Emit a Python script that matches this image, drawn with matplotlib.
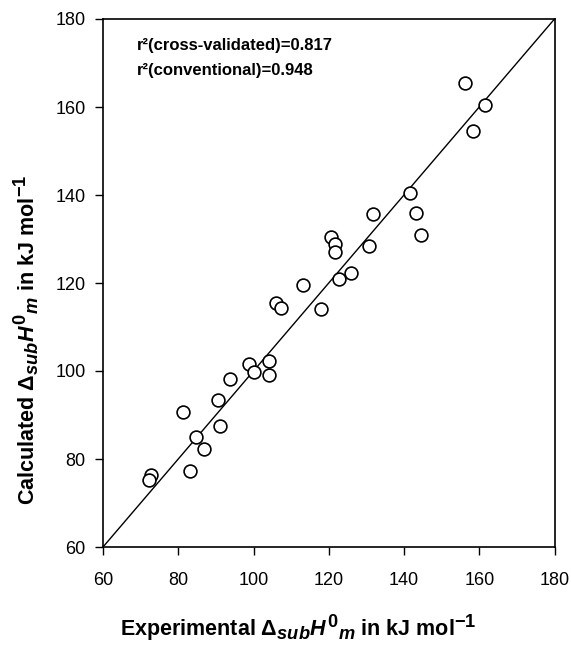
import matplotlib
matplotlib.use("Agg")
import matplotlib.pyplot as plt
from matplotlib import font_manager
try:
    import matplotlib._mathtext as _mt
    _mt.SHRINK_FACTOR = 0.85
except Exception:
    pass

experimental = [72.7, 72.1, 81.3, 83.0, 84.8, 86.9, 90.5, 91.2, 93.8, 98.9,
                100.0, 104.1, 104.2, 106.0, 107.4, 113.2, 117.9, 120.7, 121.6, 121.6,
                122.8, 125.9, 130.6, 131.8, 141.6, 143.1, 144.4, 156.1, 158.3, 161.4]
calculated = [76.4, 75.2, 90.6, 77.3, 85.0, 82.2, 93.3, 87.6, 98.2, 101.6,
              99.7, 99.2, 102.3, 115.4, 114.3, 119.5, 114.0, 130.4, 128.8, 127.1,
              121.0, 122.2, 128.4, 135.7, 140.4, 135.9, 130.8, 165.4, 154.6, 160.5]
ticks = [60, 80, 100, 120, 140, 160, 180]
annotations = ["r\u00b2(cross-validated)=0.817", "r\u00b2(conventional)=0.948"]
xlabel = r'Experimental $\Delta_{sub}H^{\mathit{0}}{}_{m}$ in kJ mol$^{-1}$'
ylabel = r'Calculated $\Delta_{sub}H^{\mathit{0}}{}_{m}$ in kJ mol$^{-1}$'

names = {f.name for f in font_manager.fontManager.ttflist}
narrow = "Liberation Sans Narrow" if "Liberation Sans Narrow" in names else "Liberation Sans"

plt.rcParams['font.family'] = ['Liberation Sans', 'DejaVu Sans']
plt.rcParams['mathtext.fontset'] = 'custom'
plt.rcParams['mathtext.rm'] = 'Liberation Sans:bold'
plt.rcParams['mathtext.bf'] = 'Liberation Sans:bold'
plt.rcParams['mathtext.it'] = 'Liberation Sans:italic:bold'

fig = plt.figure(figsize=(5.71, 6.48), dpi=100)
ax = fig.add_axes([103/571, 1-547/648, (554.5-103)/571, (547-19)/648])

ax.plot([60, 180], [60, 180], color='black', lw=1.0)
ax.scatter(experimental, calculated, s=85, facecolors='white', edgecolors='black',
           linewidths=1.2, zorder=3)

ax.set_xlim(60, 180)
ax.set_ylim(60, 180)
ax.set_xticks(ticks)
ax.set_yticks(ticks)
ax.tick_params(direction='out', length=6, width=1.0, labelsize=13)
ax.tick_params(axis='x', pad=12)
ax.tick_params(axis='y', pad=6.5)
for s in ax.spines.values():
    s.set_linewidth(1.2)

fig.text(298/571, 1-636/648, xlabel, fontsize=15.5, fontweight='bold',
         ha='center', va='baseline')
fig.text(26/571, 1-340/648, ylabel, fontsize=15.5, fontweight='bold',
         ha='center', va='center', rotation=90)

ax.text(0.075, 0.949, annotations[0], transform=ax.transAxes, fontsize=12,
        fontweight='bold', family=narrow, va='center', ha='left')
ax.text(0.075, 0.903, annotations[1], transform=ax.transAxes, fontsize=12,
        fontweight='bold', family=narrow, va='center', ha='left')

fig.savefig("out.png", dpi=100)
